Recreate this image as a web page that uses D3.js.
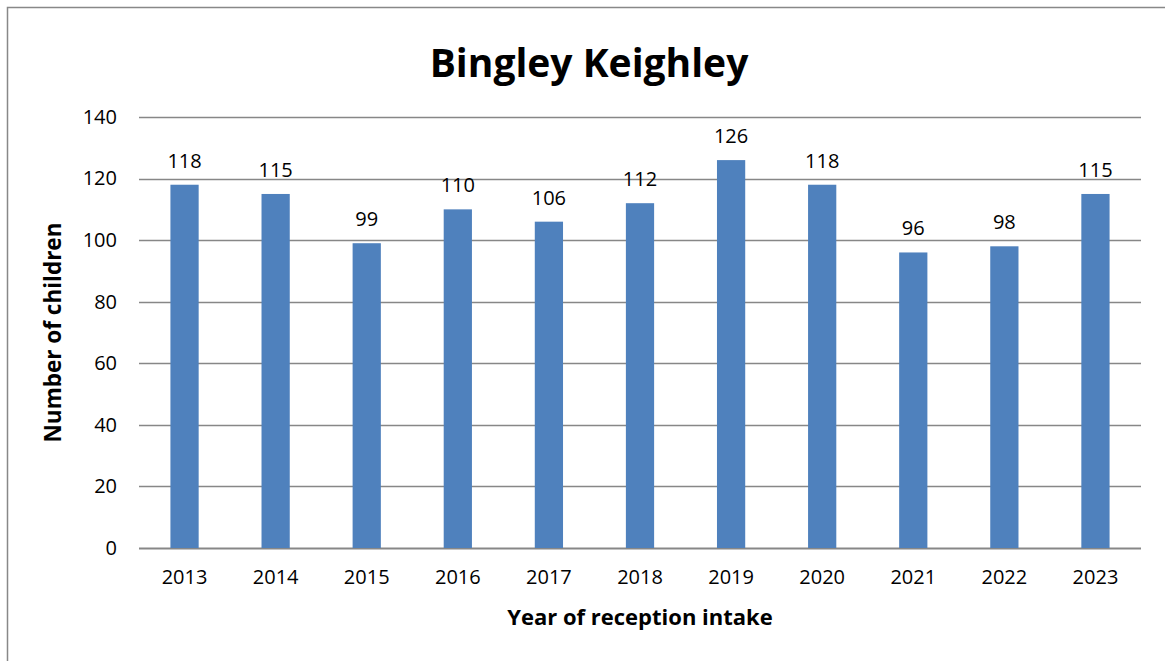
<!DOCTYPE html>
<html>
<head>
<meta charset="utf-8">
<script src="https://cdn.jsdelivr.net/npm/d3@7"></script>
<style>
  body { margin: 0; background: #fff; }
  text { font-family: "Open Sans", sans-serif; fill: #000; }
</style>
</head>
<body>
<div id="chart"></div>
<script>
var width = 1165, height = 661;

var years = ["2013", "2014", "2015", "2016", "2017", "2018", "2019", "2020", "2021", "2022", "2023"];
var children = [118, 115, 99, 110, 106, 112, 126, 118, 96, 98, 115];
var yTicks = [0, 20, 40, 60, 80, 100, 120, 140];

var margin = { left: 139, right: 24, top: 117, bottom: 113 };
var font = "'Open Sans', sans-serif";

var svg = d3.select("#chart").append("svg")
    .attr("width", width)
    .attr("height", height);

// outer frame (only top and left edges fall inside the picture)
svg.append("rect")
    .attr("x", 7.5).attr("y", 7.5)
    .attr("width", width + 20).attr("height", height + 20)
    .attr("fill", "none")
    .attr("stroke", "#888")
    .attr("stroke-width", 1.5);

var x = d3.scaleBand()
    .domain(years)
    .range([margin.left, width - margin.right])
    .paddingInner(0.69)
    .paddingOuter(0.345);

var y = d3.scaleLinear()
    .domain([0, 140])
    .range([height - margin.bottom, margin.top]);

// gridlines
svg.append("g")
    .selectAll("line")
    .data(yTicks)
  .enter().append("line")
    .attr("x1", margin.left)
    .attr("x2", width - margin.right)
    .attr("y1", function(d) { return Math.round(y(d)) + 0.5; })
    .attr("y2", function(d) { return Math.round(y(d)) + 0.5; })
    .attr("stroke", "#878787")
    .attr("stroke-width", function(d) { return d === 0 ? 2 : 1.3; });

var yAxis = svg.append("g")
    .attr("transform", "translate(" + margin.left + ",0)")
    .call(d3.axisLeft(y).tickValues(yTicks).tickSize(0).tickPadding(22));
yAxis.select(".domain").remove();
yAxis.selectAll("text")
    .style("font-size", "20px")
    .style("font-family", font);

// bars
svg.append("g")
    .selectAll("rect")
    .data(children)
  .enter().append("rect")
    .attr("x", function(d, i) { return x(years[i]); })
    .attr("y", function(d) { return y(d); })
    .attr("width", x.bandwidth())
    .attr("height", function(d) { return y(0) - y(d); })
    .attr("fill", "#4F81BD");

// data labels
svg.append("g")
    .selectAll("text")
    .data(children)
  .enter().append("text")
    .attr("x", function(d, i) { return x(years[i]) + x.bandwidth() / 2; })
    .attr("y", function(d) { return y(d) - 17; })
    .attr("text-anchor", "middle")
    .style("font-size", "20px")
    .text(function(d) { return d; });

var xAxis = svg.append("g")
    .attr("transform", "translate(0," + y(0) + ")")
    .call(d3.axisBottom(x).tickSize(0).tickPadding(22));
xAxis.select(".domain").remove();
xAxis.selectAll("text")
    .style("font-size", "20px")
    .style("font-family", font);

// titles
svg.append("text")
    .attr("x", 589)
    .attr("y", 77)
    .attr("text-anchor", "middle")
    .style("font-size", "39px")
    .style("font-weight", "bold")
    .text("Bingley Keighley");

svg.append("text")
    .attr("x", 640)
    .attr("y", 625)
    .attr("text-anchor", "middle")
    .style("font-size", "22px")
    .style("font-weight", "bold")
    .text("Year of reception intake");

svg.append("text")
    .attr("transform", "translate(61," + (y(70)) + ") rotate(-90)")
    .attr("text-anchor", "middle")
    .style("font-size", "22.5px")
    .style("font-weight", "bold")
    .text("Number of children");
</script>
</body>
</html>
